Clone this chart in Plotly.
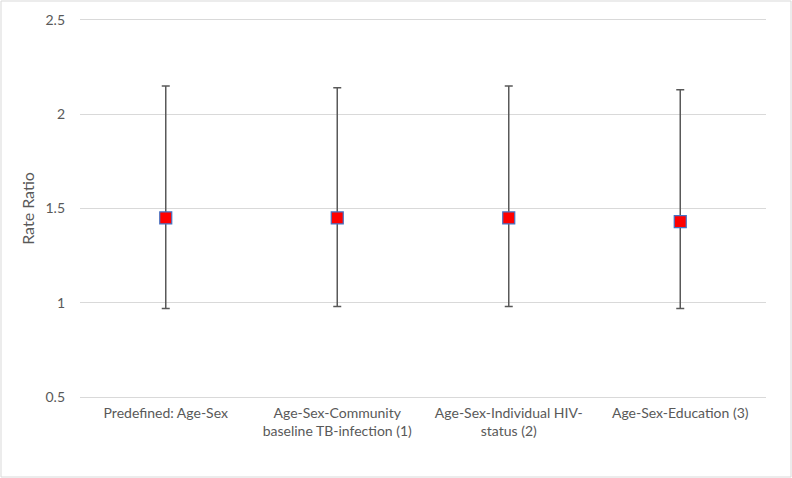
import plotly.graph_objects as go

# data
models = [
    "Predefined: Age-Sex",
    "Age-Sex-Community<br>baseline TB-infection (1)",
    "Age-Sex-Individual HIV-<br>status (2)",
    "Age-Sex-Education (3)",
]
rate_ratio = [1.45, 1.45, 1.45, 1.43]
upper_ci = [2.15, 2.14, 2.15, 2.13]
lower_ci = [0.97, 0.98, 0.98, 0.97]

err_plus = [u - r for u, r in zip(upper_ci, rate_ratio)]
err_minus = [r - l for r, l in zip(rate_ratio, lower_ci)]

W, H = 792, 478
m = dict(l=80, r=26, t=18, b=79)

fig = go.Figure(
    go.Scatter(
        x=models, y=rate_ratio,
        mode="markers",
        marker=dict(symbol="square", size=12, color="#ff0000",
                    line=dict(color="#4472c4", width=1.2)),
        error_y=dict(type="data", symmetric=False, array=err_plus,
                     arrayminus=err_minus, color="#595959",
                     thickness=1.5, width=4),
        hoverinfo="x+y",
    )
)

# light frame around the whole chart, like the Excel chart area
pw = W - m["l"] - m["r"]
ph = H - m["t"] - m["b"]
fig.add_shape(
    type="rect", xref="paper", yref="paper",
    x0=-(m["l"] - 1) / pw, x1=1 + (m["r"] - 1) / pw,
    y0=-(m["b"] - 1) / ph, y1=1 + (m["t"] - 1) / ph,
    line=dict(color="#d9d9d9", width=1),
)

fig.update_layout(
    width=W, height=H,
    margin=m,
    plot_bgcolor="white",
    paper_bgcolor="white",
    showlegend=False,
    font=dict(family="Lato, Open Sans, sans-serif", size=14, color="#595959"),
    xaxis=dict(range=[-0.5, 3.5], showgrid=False, showline=False, zeroline=False,
               ticks="", ticklabelstandoff=4,
               tickfont=dict(size=14, color="#595959")),
    yaxis=dict(range=[0.49, 2.51], tickvals=[0.5, 1, 1.5, 2, 2.5],
               ticktext=["0.5", "1", "1.5", "2", "2.5"], showgrid=True,
               gridcolor="#d9d9d9", gridwidth=1, zeroline=False, showline=False,
               ticks="", ticklabelstandoff=14,
               title=dict(text="Rate Ratio", font=dict(size=16, color="#595959"),
                          standoff=6),
               tickfont=dict(size=14, color="#595959")),
)

fig.write_html("out.html", config={"displayModeBar": False},
               post_script="document.body.style.margin='0';")
